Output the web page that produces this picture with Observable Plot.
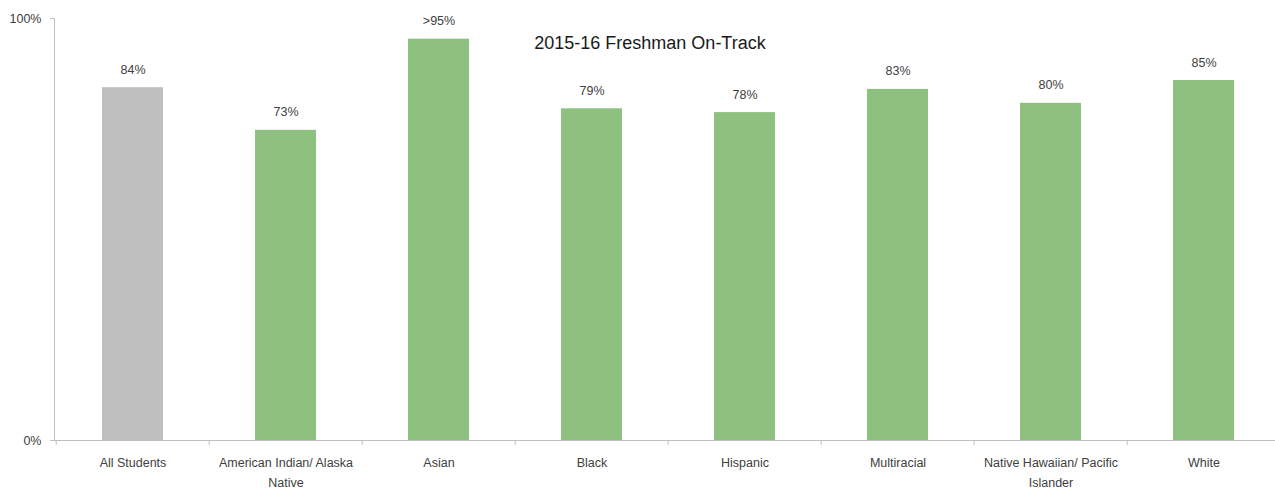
<!DOCTYPE html>
<html>
<head>
<meta charset="utf-8">
<script src="https://cdn.jsdelivr.net/npm/d3@7"></script>
<script src="https://cdn.jsdelivr.net/npm/@observablehq/plot@0.6"></script>
<style>
  html, body { margin: 0; padding: 0; background: #fff; overflow: hidden; }
  #chart svg { display: block; }
</style>
</head>
<body>
<div id="chart"></div>
<script>
const title = "2015-16 Freshman On-Track";
const categories = ["All Students", "American Indian/ Alaska Native", "Asian", "Black", "Hispanic", "Multiracial", "Native Hawaiian/ Pacific Islander", "White"];
const tickLabels = ["All Students", "American Indian/ Alaska\nNative", "Asian", "Black", "Hispanic", "Multiracial", "Native Hawaiian/ Pacific\nIslander", "White"];
const values = [0.836, 0.735, 0.951, 0.786, 0.777, 0.832, 0.799, 0.853];
const valueLabels = ["84%", "73%", ">95%", "79%", "78%", "83%", "80%", "85%"];
const groups = ["all", "group", "group", "group", "group", "group", "group", "group"];
const yTicks = [0, 1];
const yTickLabels = ["0%", "100%"];

const data = categories.map((c, i) => ({category: c, value: values[i], label: valueLabels[i], group: groups[i]}));
const labelOf = new Map(categories.map((c, i) => [c, tickLabels[i]]));
const yLabelOf = new Map(yTicks.map((t, i) => [t, yTickLabels[i]]));

const W = 1275, H = 491;
const xRange = [53.5, 1282.5];
const step = (xRange[1] - xRange[0]) / categories.length;
const font = "'Liberation Sans', Arial, sans-serif";

const chart = Plot.plot({
  width: W,
  height: H,
  marginLeft: 54,
  marginRight: 0,
  marginTop: 18,
  marginBottom: 51,
  style: {fontFamily: font, fontSize: "12px", color: "#404040", background: "#fff"},
  x: {domain: categories, range: xRange, paddingInner: 0.6, paddingOuter: 0.3},
  y: {domain: [0, 1]},
  color: {domain: ["all", "group"], range: ["#bfbfbf", "#8ec07f"]},
  marks: [
    Plot.barY(data, {x: "category", y: "value", fill: "group"}),
    Plot.frame({anchor: "left", stroke: "#bfbfbf"}),
    Plot.ruleY([0], {stroke: "#bfbfbf"}),
    Plot.axisY({ticks: yTicks, tickFormat: d => yLabelOf.get(d), tickSize: 4, tickPadding: 9, stroke: "#bfbfbf", fill: "#404040", fontSize: 12.5, label: null}),
    Plot.axisX({tickSize: 5, tickFormat: () => "", dx: -step / 2, stroke: "#bfbfbf", label: null}),
    Plot.axisX({tickSize: 0, tickPadding: 12, tickFormat: d => labelOf.get(d), fill: "#404040", fontSize: 12.5, lineHeight: 1.6, label: null}),
    Plot.text(data, {x: "category", y: "value", text: "label", dy: -18, fill: "#404040", fontSize: 12.5}),
    Plot.text([title], {frameAnchor: "top", dx: -15, dy: 18, fontSize: 18, fill: "#1a1a1a"})
  ]
});
document.getElementById("chart").append(chart);
</script>
</body>
</html>
